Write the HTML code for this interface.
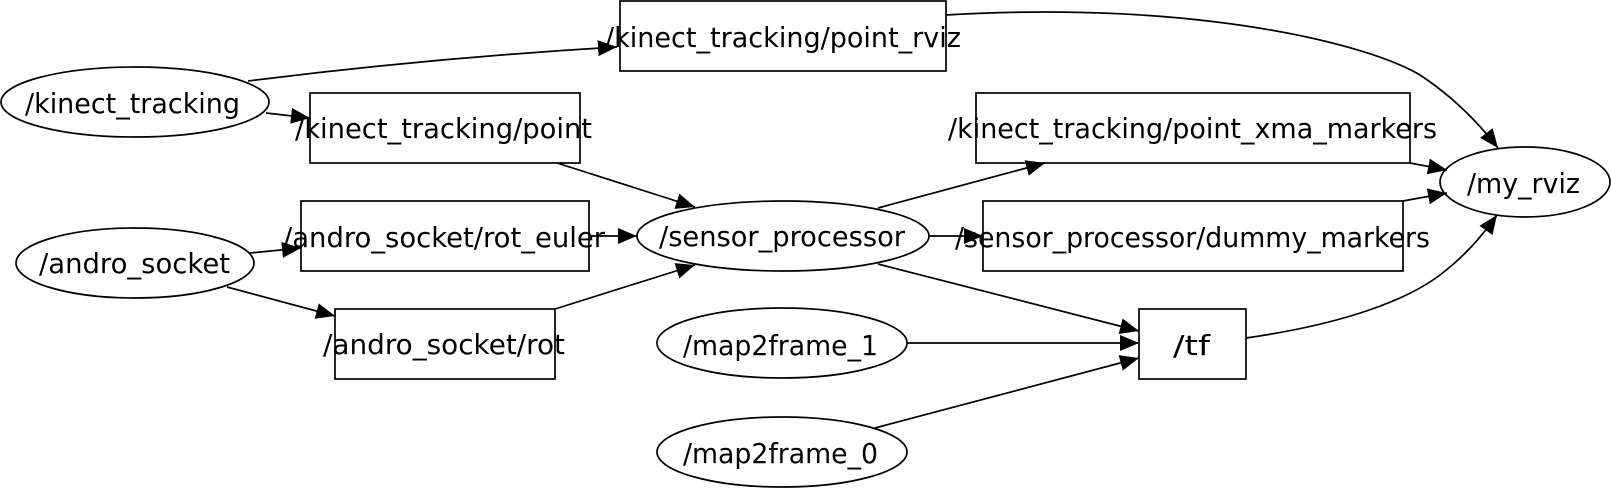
<!DOCTYPE html>
<html><head><meta charset="utf-8"><style>
html,body{margin:0;padding:0;background:#fff;}
svg{display:block;}
text{font-family:"DejaVu Sans","Liberation Sans",sans-serif;font-size:28px;fill:#000;}
</style></head><body>
<svg width="1611" height="488" viewBox="0 0 1611 488" xmlns="http://www.w3.org/2000/svg">
<defs>
<marker id="a" markerUnits="userSpaceOnUse" markerWidth="20" markerHeight="16" refX="19" refY="8" orient="auto">
<path d="M0,0 L19,8 L0,16 Z" fill="#000"/>
</marker>
</defs>
<g fill="none" stroke="#000" stroke-width="1.7">
<ellipse cx="135" cy="102" rx="134" ry="35"/>
<ellipse cx="135" cy="263" rx="119" ry="35"/>
<ellipse cx="783" cy="236" rx="146" ry="35"/>
<ellipse cx="782" cy="343" rx="125" ry="35"/>
<ellipse cx="782" cy="452" rx="125" ry="35"/>
<ellipse cx="1525" cy="182" rx="85" ry="35"/>
<rect x="620" y="1" width="326" height="70"/>
<rect x="310" y="93" width="270" height="70"/>
<rect x="301" y="201" width="288" height="70"/>
<rect x="335" y="309" width="220" height="70"/>
<rect x="976" y="93" width="434" height="70"/>
<rect x="983" y="201" width="420" height="70"/>
<rect x="1139" y="309" width="107" height="70"/>
<path d="M248,81 Q430,58 617,47" marker-end="url(#a)"/>
<path d="M266,113 L310,118" marker-end="url(#a)"/>
<path d="M557,163 L695,207" marker-end="url(#a)"/>
<path d="M250,253 L301,248" marker-end="url(#a)"/>
<path d="M227,287 L335,316" marker-end="url(#a)"/>
<path d="M589,236 L637,236" marker-end="url(#a)"/>
<path d="M555,309 L695,265" marker-end="url(#a)"/>
<path d="M878,208 L1045,163" marker-end="url(#a)"/>
<path d="M929,236 L983,236" marker-end="url(#a)"/>
<path d="M878,264 L1139,331" marker-end="url(#a)"/>
<path d="M907,343 L1139,343" marker-end="url(#a)"/>
<path d="M875,428 L1139,358" marker-end="url(#a)"/>
<path d="M946,15 C1200,0 1370,45 1420,75 C1452,96 1477,121 1498,148" marker-end="url(#a)"/>
<path d="M1410,163 L1447,170" marker-end="url(#a)"/>
<path d="M1403,201 L1447,193" marker-end="url(#a)"/>
<path d="M1246,338 C1330,326 1400,305 1440,275 C1465,256 1482,236 1497,215" marker-end="url(#a)"/>
</g>
<g>
<text x="25" y="113" textLength="215" lengthAdjust="spacingAndGlyphs">/kinect_tracking</text>
<text x="39" y="273" textLength="191" lengthAdjust="spacingAndGlyphs">/andro_socket</text>
<text x="605" y="47" textLength="356" lengthAdjust="spacingAndGlyphs">/kinect_tracking/point_rviz</text>
<text x="295" y="138" textLength="297" lengthAdjust="spacingAndGlyphs">/kinect_tracking/point</text>
<text x="283" y="247" textLength="322" lengthAdjust="spacingAndGlyphs">/andro_socket/rot_euler</text>
<text x="323" y="354" textLength="242" lengthAdjust="spacingAndGlyphs">/andro_socket/rot</text>
<text x="659" y="246" textLength="246" lengthAdjust="spacingAndGlyphs">/sensor_processor</text>
<text x="683" y="355" textLength="195" lengthAdjust="spacingAndGlyphs">/map2frame_1</text>
<text x="683" y="463" textLength="195" lengthAdjust="spacingAndGlyphs">/map2frame_0</text>
<text x="948" y="138" textLength="489" lengthAdjust="spacingAndGlyphs">/kinect_tracking/point_xma_markers</text>
<text x="955" y="247" textLength="475" lengthAdjust="spacingAndGlyphs">/sensor_processor/dummy_markers</text>
<text x="1173" y="355" textLength="37" lengthAdjust="spacingAndGlyphs">/tf</text>
<text x="1467" y="193" textLength="113" lengthAdjust="spacingAndGlyphs">/my_rviz</text>
</g>
</svg>
</body></html>
